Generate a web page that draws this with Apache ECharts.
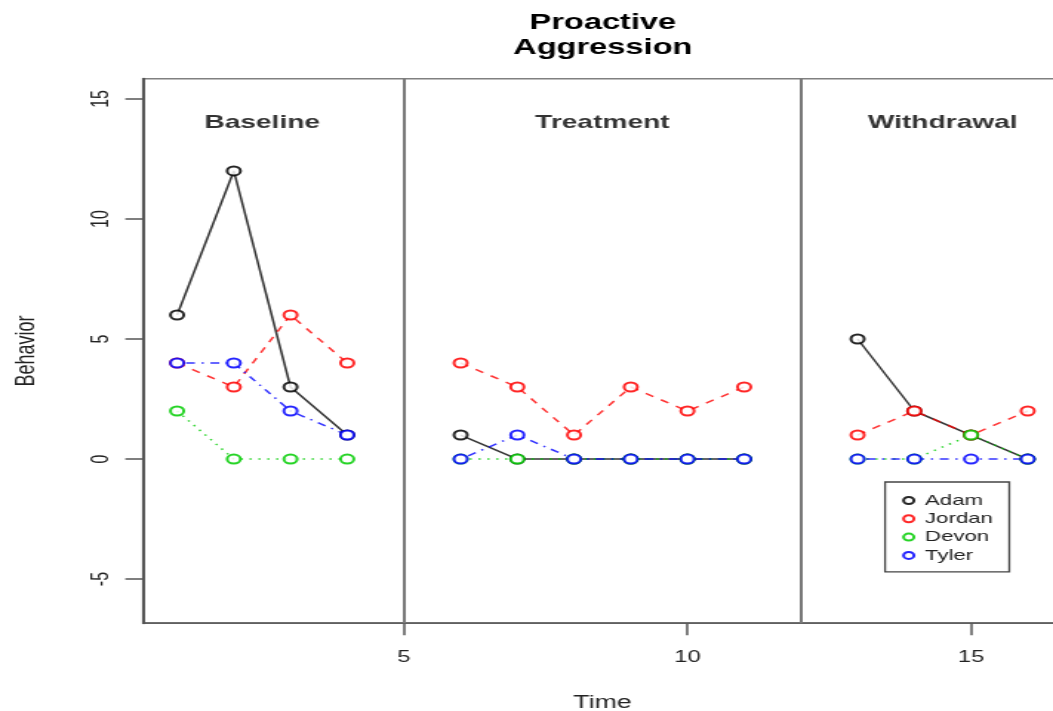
<!DOCTYPE html>
<html>
<head>
<meta charset="utf-8">
<script src="https://cdn.jsdelivr.net/npm/echarts@6/dist/echarts.min.js"></script>
<style>
  html, body { margin: 0; padding: 0; background: #fff; overflow: hidden; }
  /* square drawing surface, widened to fill the page */
  #chart { width: 711px; height: 711px; transform: scaleX(1.481); transform-origin: 0 0; }
</style>
</head>
<body>
<div id="chart"></div>
<script>
// Sessions observed (5 and 12 are phase changes, no observation)
const sessions = [1, 2, 3, 4, 5, 6, 7, 8, 9, 10, 11, 12, 13, 14, 15, 16];
const students = ['Adam', 'Jordan', 'Devon', 'Tyler'];
const adam   = [6, 12, 3, 1, null, 1, 0, 0, 0, 0, 0, null, 5, 2, 1, 0];
const jordan = [4, 3, 6, 4, null, 4, 3, 1, 3, 2, 3, null, 1, 2, 1, 2];
const devon  = [2, 0, 0, 0, null, 0, 0, 0, 0, 0, 0, null, 0, 0, 1, 0];
const tyler  = [4, 4, 2, 1, null, 0, 1, 0, 0, 0, 0, null, 0, 0, 0, 0];

const phaseNames = ['Baseline', 'Treatment', 'Withdrawal'];
const phaseSessions = [[1, 4], [6, 11], [13, 16]];
const phaseChanges = [5, 12];

const xTicks = [5, 10, 15];
const yTicks = [-5, 0, 5, 10, 15];

const FONT = 'Liberation Sans, Arial, Helvetica, sans-serif';
const colors = ['#000000', '#ff0000', '#00cd00', '#0000ff'];
const dashes = ['solid', [6, 6], [1.5, 4.5], [1.5, 4.5, 6, 4.5]];
const values = [adam, jordan, devon, tyler];

const chart = echarts.init(document.getElementById('chart'));

const lineSeries = students.map((name, i) => ({
  name: name,
  type: 'line',
  data: sessions.map((s, k) => [s, values[i][k] === null ? '-' : values[i][k]]),
  connectNulls: false,
  symbol: 'emptyCircle',
  symbolSize: 9,
  showAllSymbol: true,
  color: colors[i],
  lineStyle: { color: colors[i], width: 1.5, type: dashes[i], opacity: 0.8 },
  itemStyle: { color: colors[i], borderWidth: 1.6, opacity: 0.85 },
  emphasis: { disabled: true },
  animation: false,
  z: 3
}));

// Phase change lines and phase headings
const phaseSeries = {
  name: 'phases',
  type: 'scatter',
  data: phaseNames.map((n, i) => ({
    name: n,
    value: [(phaseSessions[i][0] + phaseSessions[i][1]) / 2, 14]
  })),
  symbolSize: 0,
  label: {
    show: true, position: 'inside', formatter: '{b}',
    fontFamily: FONT, fontWeight: 'bold', fontSize: 19, color: '#000'
  },
  markLine: {
    silent: true,
    symbol: ['none', 'none'],
    label: { show: false },
    lineStyle: { color: '#7a7a7a', width: 2, type: 'solid' },
    data: phaseChanges.map(x => ({ xAxis: x }))
  },
  animation: false,
  z: 2
};

chart.setOption({
  backgroundColor: '#fff',
  animation: false,
  title: {
    text: 'Proactive\nAggression',
    left: 402,
    top: 5,
    textAlign: 'center',
    textStyle: { fontFamily: FONT, fontWeight: 'bold', fontSize: 22, lineHeight: 25, color: '#000' }
  },
  grid: {
    left: 96.6, right: -5.9, top: 78.8, bottom: 87.8,
    outerBoundsMode: 'none',
    containLabel: false,
    show: true, borderColor: '#808080', borderWidth: 1.5, backgroundColor: 'transparent'
  },
  legend: {
    data: students.map(n => ({ name: n, icon: 'emptyCircle' })),
    orient: 'vertical',
    left: 597.6,
    top: 482,
    itemWidth: 8,
    itemHeight: 7,
    itemGap: 3.3,
    padding: [11, 11, 9, 11.5],
    borderColor: '#444',
    borderWidth: 1.3,
    backgroundColor: '#fff',
    selectedMode: false,
    textStyle: { fontFamily: FONT, fontSize: 15, color: '#222', lineHeight: 15, padding: [0, 0, 0, 2] }
  },
  xAxis: {
    type: 'value',
    min: 0.4, max: 16.6,
    name: 'Time',
    nameLocation: 'middle',
    nameGap: 71,
    nameTextStyle: { fontFamily: FONT, fontSize: 18, color: '#222' },
    splitLine: { show: false },
    axisLine: { show: true, onZero: false, lineStyle: { color: '#555', width: 1.5 } },
    axisTick: { show: true, customValues: xTicks, length: 12, inside: false, lineStyle: { color: '#555', width: 1.5 } },
    axisLabel: { customValues: xTicks, margin: 26, fontFamily: FONT, fontSize: 16, color: '#222' }
  },
  yAxis: {
    type: 'value',
    min: -6.84, max: 15.84,
    name: 'Behavior',
    nameLocation: 'middle',
    nameGap: 70,
    nameRotate: 90,
    nameTextStyle: { fontFamily: FONT, fontSize: 18, color: '#222' },
    splitLine: { show: false },
    axisLine: { show: true, onZero: false, lineStyle: { color: '#555', width: 2 } },
    axisTick: { show: true, customValues: yTicks, length: 12, inside: false, lineStyle: { color: '#555', width: 1.5 } },
    axisLabel: { customValues: yTicks, rotate: 90, margin: 20, fontFamily: FONT, fontSize: 16, color: '#222' }
  },
  series: [phaseSeries].concat(lineSeries)
});
</script>
</body>
</html>
